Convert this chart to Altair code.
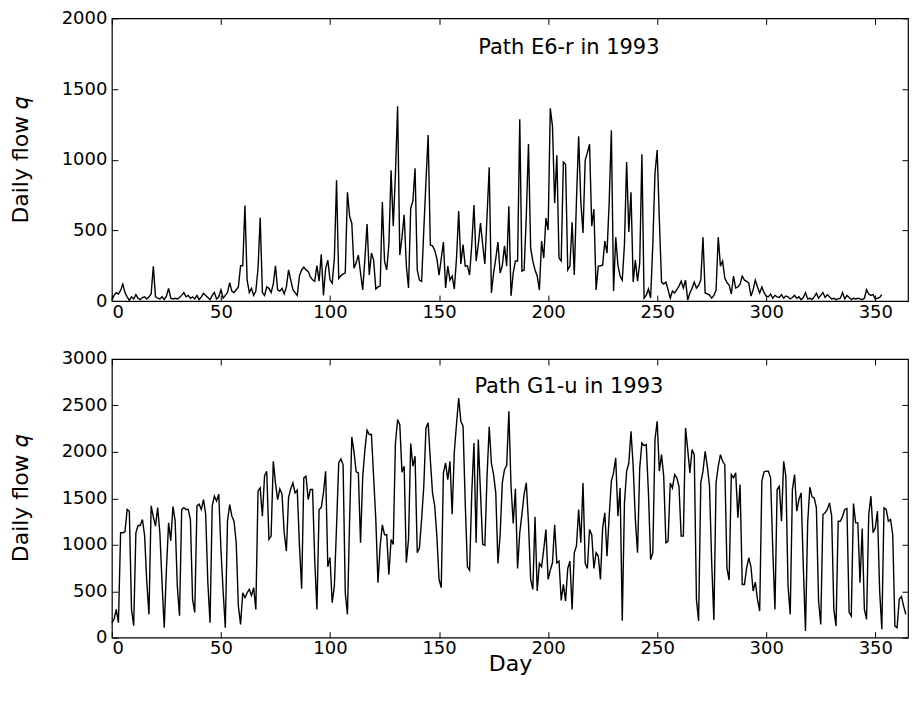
import altair as alt
import pandas as pd

# ---------------- data ----------------
day_ticks = [0, 50, 100, 150, 200, 250, 300, 350]
e6_ticks = [0, 500, 1000, 1500, 2000]
g1_ticks = [0, 500, 1000, 1500, 2000, 2500, 3000]

e6_title = "Path E6-r in 1993"
g1_title = "Path G1-u in 1993"

e6_flow = [
    5, 40, 60, 50, 75, 120, 60, 30, 5, 30,
    15, 45, 20, 10, 25, 30, 15, 30, 50, 245,
    30, 20, 15, 30, 10, 35, 90, 20, 15, 20,
    15, 25, 40, 60, 30, 40, 20, 30, 15, 40,
    10, 30, 55, 40, 25, 10, 40, 60, 15, 30,
    80, 20, 40, 60, 130, 70, 60, 80, 100, 250,
    250, 675, 150, 60, 90, 40, 70, 230, 590, 60,
    40, 100, 90, 60, 120, 250, 80, 70, 90, 50,
    100, 220, 150, 80, 60, 40, 180, 220, 240, 220,
    210, 170, 150, 140, 250, 140, 330, 40, 230, 290,
    150, 127, 300, 855, 160, 180, 190, 200, 770, 600,
    550, 233, 270, 325, 200, 78, 300, 545, 184, 340,
    290, 85, 100, 106, 700, 283, 220, 400, 925, 530,
    900, 1378, 325, 450, 610, 250, 92, 657, 707, 940,
    220, 148, 140, 500, 850, 1174, 396, 390, 360, 300,
    184, 300, 417, 92, 247, 148, 177, 85, 300, 636,
    262, 400, 247, 250, 184, 400, 679, 283, 400, 551,
    400, 262, 600, 947, 57, 198, 300, 417, 198, 250,
    390, 247, 670, 37, 200, 283, 283, 1287, 212, 220,
    600, 1111, 374, 283, 220, 177, 78, 424, 304, 587,
    502, 1364, 1237, 693, 1032, 304, 283, 983, 968, 220,
    247, 558, 184, 714, 1166, 700, 481, 997, 1050, 1110,
    530, 650, 78, 247, 250, 254, 424, 339, 700, 1209,
    71, 452, 254, 177, 148, 400, 983, 488, 770, 134,
    290, 141, 269, 1039, 21, 42, 85, 21, 400, 905,
    1068, 573, 134, 120, 134, 80, 21, 71, 57, 80,
    106, 141, 92, 148, 7, 57, 90, 134, 92, 110,
    148, 452, 57, 50, 42, 21, 40, 78, 452, 247,
    283, 162, 130, 113, 50, 177, 92, 100, 120, 177,
    148, 140, 127, 35, 80, 148, 100, 57, 99, 60,
    35, 30, 50, 20, 40, 30, 25, 45, 20, 35,
    30, 15, 25, 40, 20, 30, 10, 25, 60, 15,
    20, 10, 30, 55, 20, 40, 60, 25, 45, 30,
    15, 20, 10, 15, 20, 60, 15, 40, 25, 10,
    20, 15, 20, 15, 10, 20, 80, 50, 40, 45,
    14, 20, 25, 45,
]

g1_flow = [
    160, 200, 304, 161, 1129, 1130, 1140, 1380, 1360, 304,
    129, 1129, 1208, 1208, 1272, 1100, 600, 251, 1419, 1300,
    1200, 1400, 1129, 591, 107, 734, 1236, 1043, 1412, 1260,
    555, 236, 1380, 1400, 1380, 1380, 1272, 412, 272, 1419,
    1437, 1380, 1487, 1330, 590, 161, 1419, 1523, 1470, 1545,
    950, 500, 107, 1254, 1433, 1308, 1254, 1021, 340, 143,
    484, 430, 484, 520, 454, 538, 304, 1577, 1612, 1308,
    1745, 1792, 1057, 1093, 1899, 1666, 1487, 1602, 1545, 1129,
    932, 1509, 1602, 1666, 1559, 1588, 989, 527, 1720, 1738,
    1487, 1595, 1595, 842, 304, 1380, 1400, 1559, 1792, 763,
    864, 376, 555, 1200, 1880, 1924, 1860, 484, 251, 1272,
    2161, 2000, 1785, 1774, 1021, 1731, 2024, 2233, 2187, 2187,
    1731, 1272, 591, 989, 1215, 1108, 1108, 677, 1057, 1004,
    2096, 2347, 2293, 1780, 1845, 806, 1057, 2090, 1845, 1953,
    914, 968, 1272, 1630, 2258, 2312, 1917, 1559, 1419, 1093,
    627, 538, 1774, 1880, 1702, 1899, 1330, 2000, 2300, 2580,
    2330, 2276, 1451, 763, 727, 1559, 2096, 1021, 2132, 1559,
    1004, 993, 1738, 2269, 1880, 1756, 1559, 799, 1108, 1666,
    1810, 1853, 2437, 1630, 1229, 1602, 745, 1129, 1330, 1545,
    1666, 1236, 627, 520, 1301, 502, 799, 763, 950, 1165,
    627, 727, 806, 1215, 806, 824, 400, 573, 394, 745,
    824, 304, 914, 989, 1380, 1021, 1666, 799, 745, 1165,
    1108, 745, 914, 878, 627, 1183, 1344, 878, 1308, 1685,
    1774, 1935, 1308, 1612, 183, 1451, 1792, 1880, 2222, 1845,
    1272, 914, 1828, 2096, 2067, 2078, 1559, 842, 914, 2132,
    2330, 1792, 1970, 1738, 1021, 1040, 1666, 1612, 1756, 1720,
    1630, 1093, 1093, 2258, 2024, 1774, 2024, 1970, 412, 179,
    1666, 1792, 2006, 1845, 1630, 806, 190, 1666, 1845, 1970,
    1899, 1863, 745, 620, 1756, 1720, 1774, 1290, 1648, 573,
    573, 745, 860, 763, 502, 598, 412, 286, 1685, 1785,
    1792, 1792, 1720, 950, 304, 1595, 1630, 1254, 1899, 1738,
    555, 251, 1595, 1756, 1362, 1487, 1559, 763, 72, 1236,
    1620, 1516, 1505, 1398, 394, 143, 1326, 1344, 1380, 1451,
    1308, 304, 125, 1254, 1254, 1308, 1380, 1390, 272, 233,
    1444, 1236, 1236, 591, 1175, 304, 197, 1326, 1523, 1129,
    1183, 1362, 502, 90, 1398, 1380, 1254, 1272, 1108, 125,
    107, 416, 444, 340, 250,
]

FONT = "DejaVu Sans"
PLOT_W = 797


def panel(values, ymax, yticks, label, height, xtitle, title_offset):
    df = pd.DataFrame({"day": list(range(len(values))), "flow": values})
    xs = alt.Scale(domain=[0, 365], nice=False, zero=False)
    ys = alt.Scale(domain=[0, ymax], nice=False)
    inward = alt.ExprRef(expr="-6")
    x_axis = alt.Axis(values=day_ticks, format="d", tickSize=inward, labelPadding=8,
                      title=xtitle, titlePadding=-4, domain=False, grid=False)
    y_axis = alt.Axis(values=yticks, format="d", tickSize=inward, labelPadding=11,
                      title="Daily flow 𝑞", titlePadding=29, domain=False, grid=False)
    main = alt.Chart(df).mark_line(color="black", strokeWidth=1.4).encode(
        x=alt.X("day:Q", scale=xs, axis=x_axis),
        y=alt.Y("flow:Q", scale=ys, axis=y_axis),
    )
    mirror = alt.Chart(df).mark_line(opacity=0).encode(
        x=alt.X("day:Q", scale=xs,
                axis=alt.Axis(orient="top", values=day_ticks, labels=False,
                              tickSize=inward, title=None, domain=False, grid=False,
                              minExtent=0, maxExtent=0)),
        y=alt.Y("flow:Q", scale=ys,
                axis=alt.Axis(orient="right", values=yticks, labels=False,
                              tickSize=inward, title=None, domain=False, grid=False,
                              minExtent=0, maxExtent=0)),
    )
    return alt.layer(main, mirror).resolve_scale(x="independent", y="independent").properties(
        width=PLOT_W, height=height,
        title=alt.TitleParams(text=label, anchor="middle", frame="group", dx=59,
                              offset=title_offset, fontSize=21, font=FONT,
                              fontWeight="normal", color="black"),
    )


top = panel(e6_flow, 2000, e6_ticks, e6_title, 283, None, -49)
bottom = panel(g1_flow, 3000, g1_ticks, g1_title, 279, "Day", -47)

chart = alt.vconcat(top, bottom, spacing=27).properties(
    padding={"left": 0, "top": 0, "right": 0, "bottom": 0},
    background="white",
).configure_view(stroke="black", strokeWidth=1.2).configure_axis(
    labelFont=FONT, labelFontSize=18, labelColor="black",
    titleFont=FONT, titleFontSize=22, titleFontWeight="normal", titleColor="black",
    tickColor="black", tickWidth=1,
)

chart.save("out.html", embed_options={"renderer": "svg", "actions": False})
